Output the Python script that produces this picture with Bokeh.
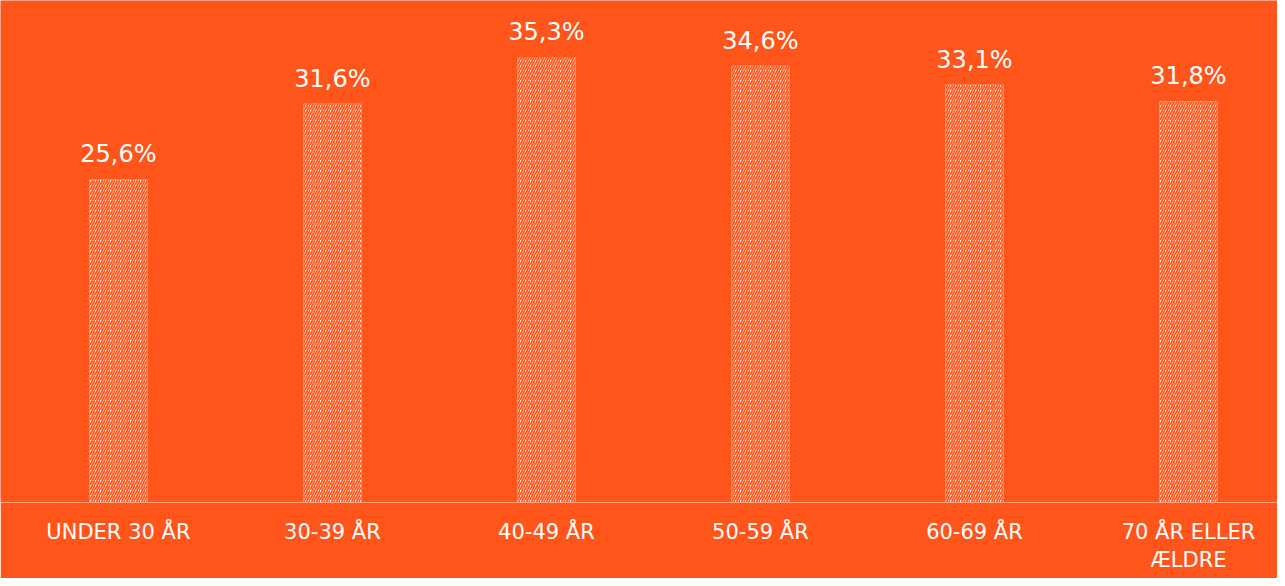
from bokeh.plotting import figure
from bokeh.models import ColumnDataSource, Range1d, FixedTicker
from bokeh.core.properties import value
from bokeh.embed import file_html
from bokeh.resources import INLINE

categories = ["UNDER 30 ÅR", "30-39 ÅR", "40-49 ÅR", "50-59 ÅR", "60-69 ÅR", "70 ÅR ELLER\nÆLDRE"]
values = [25.6, 31.6, 35.3, 34.6, 33.1, 31.8]

ORANGE = "#FF551A"
LINE = "#FFA585"
FONT = "DejaVu Sans"

xs = list(range(len(categories)))
labels = [f"{v:.1f}".replace(".", ",") + "%" for v in values]
src = ColumnDataSource(dict(x=xs, top=values, label=labels))

p = figure(width=1277, height=578, output_backend="svg", toolbar_location=None,
           x_range=Range1d(-0.551, 5.416), y_range=Range1d(0, 39.78),
           min_border_left=0, min_border_right=0, min_border_top=0, min_border_bottom=76)
p.background_fill_color = ORANGE
p.border_fill_color = ORANGE
p.outline_line_color = None
p.xgrid.visible = False
p.ygrid.visible = False
p.yaxis.visible = False

p.vbar(x="x", top="top", width=0.271, bottom=0, source=src,
       fill_color="white", line_color=None,
       hatch_pattern="right_diagonal_line", hatch_color=ORANGE,
       hatch_scale=5, hatch_weight=1.8)

p.text(x="x", y="top", text="label", source=src, text_align="center",
       text_baseline="alphabetic", y_offset=-25, text_color="white",
       text_font=value(FONT), text_font_size="24px")

ax = p.xaxis[0]
ax.ticker = FixedTicker(ticks=xs)
ax.major_label_overrides = {i: c for i, c in zip(xs, categories)}
ax.minor_tick_line_color = None
ax.major_tick_line_color = None
ax.axis_line_color = LINE
ax.axis_line_width = 1
ax.major_label_text_color = "white"
ax.major_label_text_font = FONT
ax.major_label_text_font_size = "21px"
ax.major_label_standoff = 11

open("out.html", "w").write(file_html(p, INLINE))
